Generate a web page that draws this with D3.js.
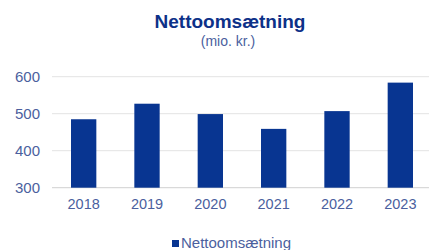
<!DOCTYPE html>
<html lang="da">
<head>
<meta charset="UTF-8">
<script src="https://d3js.org/d3.v7.min.js"></script>
<style>
    body { margin: 0; background: #fff; }
    svg { display: block; font-family: "Liberation Sans", Arial, sans-serif; }
</style>
</head>
<body>
<svg id="chart" width="429" height="250"></svg>
<script>
    // data
    const years = ["2018", "2019", "2020", "2021", "2022", "2023"];
    const revenue = [485, 527, 499, 459, 507, 584];
    const yTicks = [300, 400, 500, 600];

    const svg = d3.select("#chart");
    const barColor = "#083591";
    const textColor = "#4b5f9e";

    const x = d3.scaleBand().domain(years).range([52, 432]).paddingInner(0.6).paddingOuter(0.3);
    const y = d3.scaleLinear().domain([300, 600]).range([187.7, 76.7]);

    // title
    svg.append("text")
        .attr("x", 230).attr("y", 28)
        .attr("text-anchor", "middle")
        .attr("font-size", 19).attr("font-weight", "bold")
        .attr("fill", "#0d3188")
        .text("Nettoomsætning");
    svg.append("text")
        .attr("x", 228).attr("y", 46)
        .attr("text-anchor", "middle")
        .attr("font-size", 14)
        .attr("fill", textColor)
        .text("(mio. kr.)");

    // gridlines
    svg.append("g").selectAll("line")
        .data(yTicks)
        .join("line")
        .attr("x1", 52).attr("x2", 429)
        .attr("y1", d => y(d)).attr("y2", d => y(d))
        .attr("stroke", d => d === 300 ? "#d0d0d0" : "#e3e3e3")
        .attr("stroke-width", 1);

    // y axis
    const yAxis = svg.append("g")
        .attr("transform", "translate(40,0)")
        .call(d3.axisLeft(y).tickValues(yTicks).tickSize(0).tickPadding(0));
    yAxis.select(".domain").remove();
    yAxis.selectAll("text").attr("font-size", 15).attr("fill", textColor).attr("font-family", null);

    // bars
    svg.append("g").selectAll("rect")
        .data(years)
        .join("rect")
        .attr("x", d => x(d))
        .attr("width", x.bandwidth())
        .attr("y", (d, i) => y(revenue[i]))
        .attr("height", (d, i) => y(300) - y(revenue[i]))
        .attr("fill", barColor);

    // x axis
    const xAxis = svg.append("g")
        .attr("transform", `translate(0,${y(300)})`)
        .call(d3.axisBottom(x).tickSize(0).tickPadding(11));
    xAxis.select(".domain").remove();
    xAxis.selectAll("text").attr("font-size", 14.5).attr("fill", textColor).attr("font-family", null);

    // legend
    const legend = svg.append("g").attr("transform", "translate(172,240)");
    legend.append("rect")
        .attr("width", 7).attr("height", 7)
        .attr("fill", barColor);
    legend.append("text")
        .attr("x", 9).attr("y", 8)
        .attr("font-size", 15)
        .attr("fill", textColor)
        .text("Nettoomsætning");
</script>
</body>
</html>
